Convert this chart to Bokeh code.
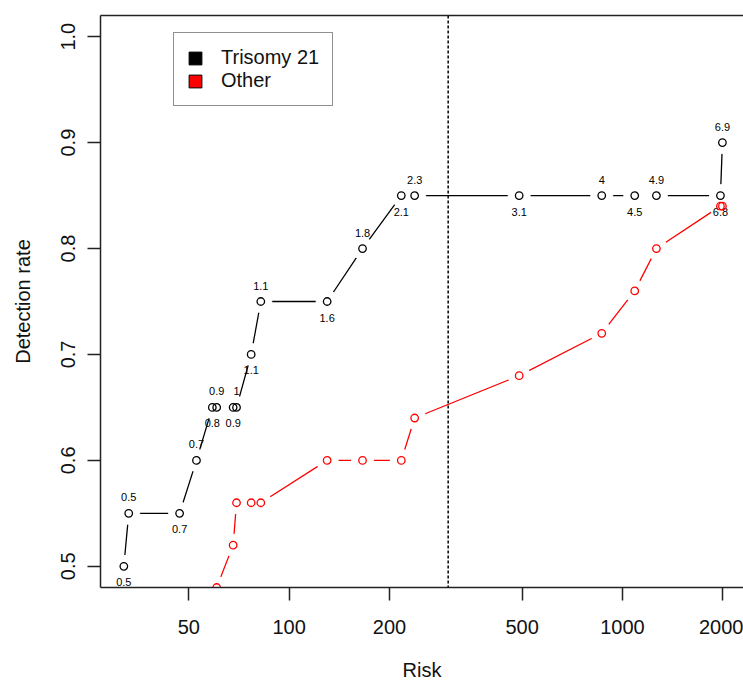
from bokeh.plotting import figure
from bokeh.models import (Range1d, FixedTicker, PrintfTickFormatter, Span, Legend,
                          LegendItem, ColumnDataSource, LogAxis)
from bokeh.core.properties import value
from bokeh.embed import file_html
from bokeh.resources import INLINE

# ---------------- data ----------------
risk_t21 = [31.9, 33.0, 46.9, 52.7, 58.8, 60.6, 67.9, 69.5, 76.9, 82.2,
            130, 166, 217, 238, 490, 867, 1089, 1265, 1969, 1996]
dr_t21 = [0.50, 0.55, 0.55, 0.60, 0.65, 0.65, 0.65, 0.65, 0.70, 0.75,
          0.75, 0.80, 0.85, 0.85, 0.85, 0.85, 0.85, 0.85, 0.85, 0.90]
fpr_t21 = ["0.5", "0.5", "0.7", "0.7", "0.8", "0.9", "0.9", "1", "1.1", "1.1",
           "1.6", "1.8", "2.1", "2.3", "3.1", "4", "4.5", "4.9", "6.8", "6.9"]

risk_other = [60.6, 67.9, 69.5, 76.9, 82.2, 130, 166, 217, 238, 490,
              867, 1089, 1265, 1969, 1996]
dr_other = [0.48, 0.52, 0.56, 0.56, 0.56, 0.60, 0.60, 0.60, 0.64, 0.68,
            0.72, 0.76, 0.80, 0.84, 0.84]

cutoff = 300
x_ticks = [50, 100, 200, 500, 1000, 2000]
y_ticks = [0.5, 0.6, 0.7, 0.8, 0.9, 1.0]
series_names = ["Trisomy 21", "Other"]

FONT = "Liberation Sans"
INK = "#111111"
FRAME = "#222222"

# ---------------- figure ----------------
p = figure(width=743, height=683, x_axis_type="log",
           x_range=Range1d(27.15, 2309), y_range=Range1d(0.48, 1.02),
           output_backend="svg", toolbar_location=None,
           min_border_left=100, min_border_right=0, min_border_top=15, min_border_bottom=95)
p.grid.visible = False
p.outline_line_color = None
p.background_fill_color = "white"

for ax in (p.xaxis[0], p.yaxis[0]):
    ax.major_tick_out = 13
    ax.major_tick_in = 0
    ax.minor_tick_out = 0
    ax.minor_tick_in = 0
    ax.axis_line_width = 1.5
    ax.axis_line_color = FRAME
    ax.major_tick_line_width = 1.5
    ax.major_tick_line_color = FRAME
    ax.major_label_text_font = FONT
    ax.major_label_text_font_size = "20px"
    ax.major_label_text_color = INK
    ax.axis_label_text_font = FONT
    ax.axis_label_text_font_size = "20px"
    ax.axis_label_text_font_style = "normal"
    ax.axis_label_text_color = INK

p.xaxis.ticker = FixedTicker(ticks=x_ticks)
p.xaxis.formatter = PrintfTickFormatter(format="%d")
p.xaxis.axis_label = "Risk"
p.xaxis.major_label_standoff = 19
p.xaxis.axis_label_standoff = 22

p.yaxis.ticker = FixedTicker(ticks=y_ticks)
p.yaxis.formatter = PrintfTickFormatter(format="%.1f")
p.yaxis.major_label_orientation = "vertical"
p.yaxis.axis_label = "Detection rate"
p.yaxis.major_label_standoff = 12
p.yaxis.axis_label_standoff = 25

# top frame line (the right side of the box lies outside the picture)
top_axis = LogAxis(ticker=FixedTicker(ticks=[]), major_label_text_font_size="0px",
                   major_tick_out=0, major_tick_in=0, minor_tick_out=0, minor_tick_in=0,
                   axis_line_width=1.5, axis_line_color=FRAME, major_label_standoff=0)
p.add_layout(top_axis, "above")

# cutoff line
p.add_layout(Span(location=cutoff, dimension="height", line_color="black",
                  line_width=1.5, line_dash="3 2"))

src_t21 = ColumnDataSource(dict(
    x=risk_t21, y=dr_t21, lab=fpr_t21,
    off=[16 if i % 2 == 0 else -16 for i in range(len(risk_t21))]))
src_oth = ColumnDataSource(dict(x=risk_other, y=dr_other))

# lines (type "b" style: gaps around points via white disks)
p.line("x", "y", source=src_t21, line_color="black", line_width=1.3)
p.line("x", "y", source=src_oth, line_color="red", line_width=1.3)
p.scatter("x", "y", source=src_t21, marker="circle", size=22,
          fill_color="white", fill_alpha=1.0, line_color="white", line_alpha=1.0)
p.scatter("x", "y", source=src_oth, marker="circle", size=22,
          fill_color="white", fill_alpha=1.0, line_color="white", line_alpha=1.0)

# black points + labels
p.scatter("x", "y", source=src_t21, size=7.5, fill_color=None,
          line_color="black", line_width=1.3)
p.text("x", "y", text="lab", source=src_t21, y_offset="off",
       text_font=value(FONT), text_font_size="11px", text_color="black",
       text_align="center", text_baseline="middle")

# red points
p.scatter("x", "y", source=src_oth, size=7.5, fill_color=None,
          line_color="red", line_width=1.3)

# legend (invisible placeholder glyphs, only used for the legend swatches)
nan = float("nan")
r1 = p.quad(left=[nan], right=[nan], top=[nan], bottom=[nan],
            fill_color="black", line_color="black")
r2 = p.quad(left=[nan], right=[nan], top=[nan], bottom=[nan],
            fill_color="red", line_color="black")
legend = Legend(items=[LegendItem(label=series_names[0], renderers=[r1]),
                       LegendItem(label=series_names[1], renderers=[r2])],
                location=(73, 481), margin=0, padding=13, spacing=0,
                label_standoff=18, glyph_width=16, glyph_height=16,
                label_height=23, label_text_font=FONT, label_text_font_size="20px",
                label_text_color=INK, border_line_color=FRAME,
                border_line_width=1.5, background_fill_color="white",
                background_fill_alpha=1.0)
p.add_layout(legend)

open("out.html", "w").write(file_html(p, INLINE))
